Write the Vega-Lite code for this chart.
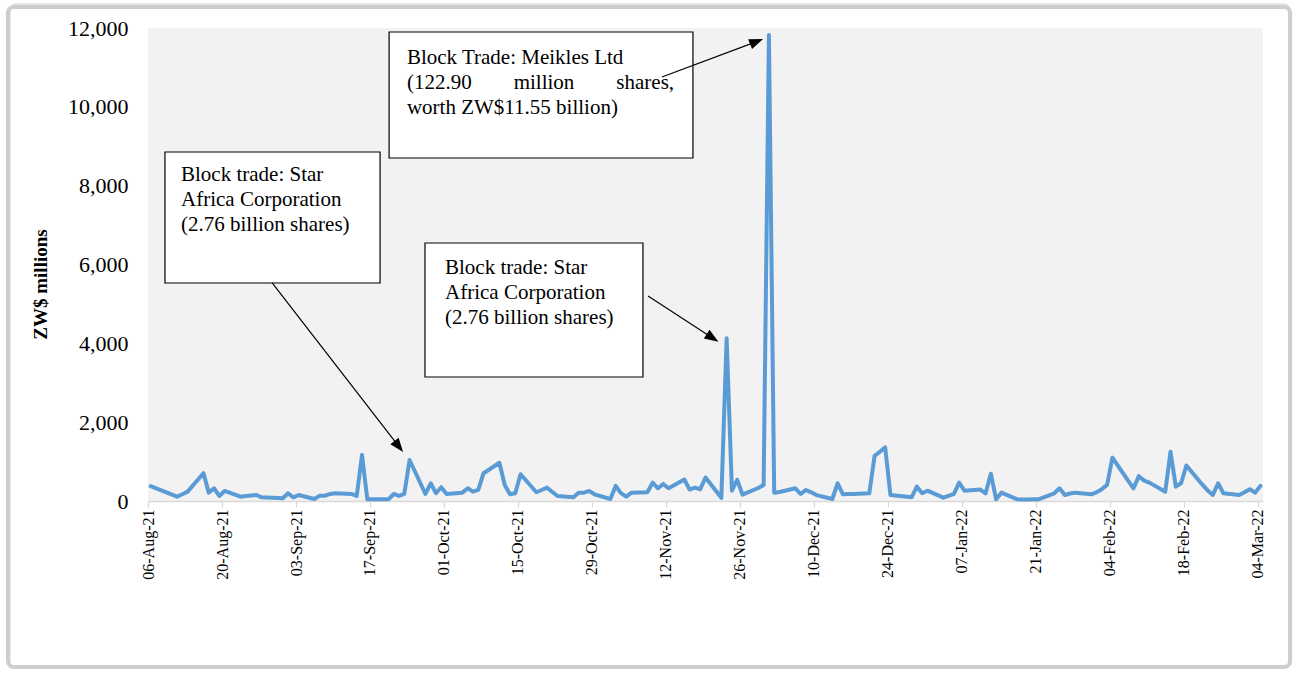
{
  "$schema": "https://vega.github.io/schema/vega-lite/v6.json",
  "autosize": "none",
  "width": 1115,
  "height": 473,
  "padding": {"left": 148, "top": 28, "right": 36, "bottom": 178},
  "background": "white",
  "config": {"view": {"fill": "#F2F2F2", "stroke": null}, "font": "Liberation Serif"},
  "datasets": {
    "series": [
      {"date": "2021-08-06", "value": 375}, {"date": "2021-08-11", "value": 110}, {"date": "2021-08-12", "value": 170}, {"date": "2021-08-13", "value": 237},
      {"date": "2021-08-16", "value": 705}, {"date": "2021-08-17", "value": 212}, {"date": "2021-08-18", "value": 323}, {"date": "2021-08-19", "value": 127},
      {"date": "2021-08-20", "value": 255}, {"date": "2021-08-23", "value": 110}, {"date": "2021-08-24", "value": 125}, {"date": "2021-08-25", "value": 140},
      {"date": "2021-08-26", "value": 153}, {"date": "2021-08-27", "value": 94}, {"date": "2021-08-30", "value": 75}, {"date": "2021-08-31", "value": 69},
      {"date": "2021-09-01", "value": 196}, {"date": "2021-09-02", "value": 94}, {"date": "2021-09-03", "value": 153}, {"date": "2021-09-06", "value": 51},
      {"date": "2021-09-07", "value": 135}, {"date": "2021-09-08", "value": 135}, {"date": "2021-09-09", "value": 180}, {"date": "2021-09-10", "value": 196},
      {"date": "2021-09-13", "value": 178}, {"date": "2021-09-14", "value": 127}, {"date": "2021-09-15", "value": 1170}, {"date": "2021-09-16", "value": 43},
      {"date": "2021-09-17", "value": 45}, {"date": "2021-09-20", "value": 43}, {"date": "2021-09-21", "value": 178}, {"date": "2021-09-22", "value": 127},
      {"date": "2021-09-23", "value": 178}, {"date": "2021-09-24", "value": 1040}, {"date": "2021-09-27", "value": 178}, {"date": "2021-09-28", "value": 450},
      {"date": "2021-09-29", "value": 196}, {"date": "2021-09-30", "value": 349}, {"date": "2021-10-01", "value": 178}, {"date": "2021-10-04", "value": 212},
      {"date": "2021-10-05", "value": 323}, {"date": "2021-10-06", "value": 237}, {"date": "2021-10-07", "value": 280}, {"date": "2021-10-08", "value": 705},
      {"date": "2021-10-11", "value": 970}, {"date": "2021-10-12", "value": 408}, {"date": "2021-10-13", "value": 170}, {"date": "2021-10-14", "value": 196},
      {"date": "2021-10-15", "value": 680}, {"date": "2021-10-18", "value": 222}, {"date": "2021-10-19", "value": 280}, {"date": "2021-10-20", "value": 339},
      {"date": "2021-10-21", "value": 230}, {"date": "2021-10-22", "value": 127}, {"date": "2021-10-25", "value": 94}, {"date": "2021-10-26", "value": 212},
      {"date": "2021-10-27", "value": 212}, {"date": "2021-10-28", "value": 255}, {"date": "2021-10-29", "value": 170}, {"date": "2021-11-01", "value": 51},
      {"date": "2021-11-02", "value": 382}, {"date": "2021-11-03", "value": 200}, {"date": "2021-11-04", "value": 110}, {"date": "2021-11-05", "value": 212},
      {"date": "2021-11-08", "value": 222}, {"date": "2021-11-09", "value": 466}, {"date": "2021-11-10", "value": 323}, {"date": "2021-11-11", "value": 433},
      {"date": "2021-11-12", "value": 323}, {"date": "2021-11-15", "value": 545}, {"date": "2021-11-16", "value": 290}, {"date": "2021-11-17", "value": 339},
      {"date": "2021-11-18", "value": 298}, {"date": "2021-11-19", "value": 594}, {"date": "2021-11-22", "value": 80}, {"date": "2021-11-23", "value": 4130},
      {"date": "2021-11-24", "value": 262}, {"date": "2021-11-25", "value": 535}, {"date": "2021-11-26", "value": 160}, {"date": "2021-11-29", "value": 330},
      {"date": "2021-11-30", "value": 408}, {"date": "2021-12-01", "value": 11820}, {"date": "2021-12-02", "value": 210}, {"date": "2021-12-03", "value": 230},
      {"date": "2021-12-06", "value": 323}, {"date": "2021-12-07", "value": 178}, {"date": "2021-12-08", "value": 280}, {"date": "2021-12-09", "value": 220},
      {"date": "2021-12-10", "value": 150}, {"date": "2021-12-13", "value": 51}, {"date": "2021-12-14", "value": 450}, {"date": "2021-12-15", "value": 170},
      {"date": "2021-12-16", "value": 175}, {"date": "2021-12-17", "value": 180}, {"date": "2021-12-20", "value": 196}, {"date": "2021-12-21", "value": 1146},
      {"date": "2021-12-22", "value": 1250}, {"date": "2021-12-23", "value": 1360}, {"date": "2021-12-24", "value": 153}, {"date": "2021-12-28", "value": 94},
      {"date": "2021-12-29", "value": 364}, {"date": "2021-12-30", "value": 196}, {"date": "2021-12-31", "value": 262}, {"date": "2022-01-03", "value": 84},
      {"date": "2022-01-04", "value": 130}, {"date": "2022-01-05", "value": 178}, {"date": "2022-01-06", "value": 466}, {"date": "2022-01-07", "value": 262},
      {"date": "2022-01-10", "value": 290}, {"date": "2022-01-11", "value": 196}, {"date": "2022-01-12", "value": 690}, {"date": "2022-01-13", "value": 43},
      {"date": "2022-01-14", "value": 212}, {"date": "2022-01-17", "value": 43}, {"date": "2022-01-18", "value": 40}, {"date": "2022-01-19", "value": 40},
      {"date": "2022-01-20", "value": 42}, {"date": "2022-01-21", "value": 43}, {"date": "2022-01-24", "value": 196}, {"date": "2022-01-25", "value": 323},
      {"date": "2022-01-26", "value": 153}, {"date": "2022-01-27", "value": 190}, {"date": "2022-01-28", "value": 212}, {"date": "2022-01-31", "value": 170},
      {"date": "2022-02-01", "value": 220}, {"date": "2022-02-02", "value": 300}, {"date": "2022-02-03", "value": 408}, {"date": "2022-02-04", "value": 1100},
      {"date": "2022-02-07", "value": 510}, {"date": "2022-02-08", "value": 323}, {"date": "2022-02-09", "value": 630}, {"date": "2022-02-10", "value": 517},
      {"date": "2022-02-11", "value": 466}, {"date": "2022-02-14", "value": 237}, {"date": "2022-02-15", "value": 1250}, {"date": "2022-02-16", "value": 364},
      {"date": "2022-02-17", "value": 450}, {"date": "2022-02-18", "value": 900}, {"date": "2022-02-21", "value": 420}, {"date": "2022-02-22", "value": 270},
      {"date": "2022-02-23", "value": 153}, {"date": "2022-02-24", "value": 450}, {"date": "2022-02-25", "value": 196}, {"date": "2022-02-28", "value": 153},
      {"date": "2022-03-01", "value": 220}, {"date": "2022-03-02", "value": 298}, {"date": "2022-03-03", "value": 212}, {"date": "2022-03-04", "value": 382}
    ],
    "frame": [
      {"x1": "2021-07-10T09:00Z", "x2": "2022-03-09T15:00Z", "y1": 12609, "y2": -4211}
    ],
    "boxes": [
      {"id": 1, "x1": "2021-08-08T17:00Z", "x2": "2021-09-18T10:00Z", "y1": 8854, "y2": 5531},
      {"id": 2, "x1": "2021-09-26T22:00Z", "x2": "2021-11-07T04:00Z", "y1": 6545, "y2": 3146},
      {"id": 3, "x1": "2021-09-20T03:00Z", "x2": "2021-11-16T15:00Z", "y1": 11898, "y2": 8702}
    ],
    "arrows": [
      {"id": 1, "x1": "2021-08-29T00:00Z", "y1": 5531, "x2": "2021-09-21T23:00Z", "y2": 1383},
      {"id": 2, "x1": "2021-11-08T03:00Z", "y1": 5201, "x2": "2021-11-20T08:00Z", "y2": 4138},
      {"id": 3, "x1": "2021-11-10T18:00Z", "y1": 10756, "x2": "2021-11-28T16:00Z", "y2": 11655}
    ],
    "labels": [
      {"id": 1, "x": "2021-08-11T18:00Z", "y": 8271, "text": "Block trade: Star\nAfrica Corporation\n(2.76 billion shares)"},
      {"id": 2, "x": "2021-09-30T17:00Z", "y": 5911, "text": "Block trade: Star\nAfrica Corporation\n(2.76 billion shares)"},
      {"id": 3, "x": "2021-09-23T12:00Z", "y": 11239, "text": "Block Trade: Meikles Ltd\n(122.90\u00a0\u00a0\u00a0\u00a0\u00a0\u00a0\u00a0 million\u00a0\u00a0\u00a0\u00a0\u00a0\u00a0\u00a0 shares,\nworth ZW$11.55 billion)"}
    ]
  },
  "layer": [
    {
      "data": {"name": "series"},
      "mark": {"type": "line", "color": "#5B9BD5", "strokeWidth": 4, "strokeJoin": "round", "strokeCap": "round"},
      "encoding": {
        "x": {
          "field": "date", "type": "temporal",
          "scale": {"type": "utc", "domain": [{"year": 2021, "month": 8, "date": 5, "hours": 12, "utc": true}, {"year": 2022, "month": 3, "date": 4, "hours": 12, "utc": true}]},
          "axis": {
            "title": null,
            "values": [
              {"year": 2021, "month": 8, "date": 6, "utc": true}, {"year": 2021, "month": 8, "date": 20, "utc": true},
              {"year": 2021, "month": 9, "date": 3, "utc": true}, {"year": 2021, "month": 9, "date": 17, "utc": true},
              {"year": 2021, "month": 10, "date": 1, "utc": true}, {"year": 2021, "month": 10, "date": 15, "utc": true},
              {"year": 2021, "month": 10, "date": 29, "utc": true}, {"year": 2021, "month": 11, "date": 12, "utc": true},
              {"year": 2021, "month": 11, "date": 26, "utc": true}, {"year": 2021, "month": 12, "date": 10, "utc": true},
              {"year": 2021, "month": 12, "date": 24, "utc": true}, {"year": 2022, "month": 1, "date": 7, "utc": true},
              {"year": 2022, "month": 1, "date": 21, "utc": true}, {"year": 2022, "month": 2, "date": 4, "utc": true},
              {"year": 2022, "month": 2, "date": 18, "utc": true}, {"year": 2022, "month": 3, "date": 4, "utc": true}
            ],
            "format": "%d-%b-%y",
            "labelAngle": -90,
            "labelFont": "Liberation Serif",
            "labelFontSize": 16,
            "labelColor": "black",
            "labelPadding": 2,
            "labelFlush": false,
            "labelOverlap": false,
            "labelBound": false,
            "tickSize": 6,
            "tickColor": "#D9D9D9",
            "tickWidth": 1.3,
            "tickOffset": -2.6,
            "domainColor": "#D9D9D9",
            "domainWidth": 1.3,
            "grid": false
          }
        },
        "y": {
          "field": "value", "type": "quantitative",
          "scale": {"domain": [0, 12000], "nice": false},
          "axis": {
            "title": "ZW$ millions",
            "titleFont": "Liberation Serif",
            "titleFontSize": 19,
            "titleFontWeight": "bold",
            "titleColor": "black",
            "titlePadding": 17,
            "titleY": 256,
            "values": [0, 2000, 4000, 6000, 8000, 10000, 12000],
            "format": ",.0f",
            "labelFont": "Liberation Serif",
            "labelFontSize": 22,
            "labelColor": "black",
            "labelPadding": 20,
            "ticks": false,
            "domain": false,
            "grid": false
          }
        }
      }
    },
    {
      "data": {"name": "frame"},
      "mark": {"type": "rect", "fill": null, "stroke": "#A6A6A6", "strokeWidth": 4, "strokeOpacity": 0.55, "cornerRadius": 6, "xOffset": -2, "yOffset": 3},
      "encoding": {
        "x": {"field": "x1", "type": "temporal"},
        "x2": {"field": "x2"},
        "y": {"field": "y1", "type": "quantitative"},
        "y2": {"field": "y2"}
      }
    },
    {
      "data": {"name": "frame"},
      "mark": {"type": "rect", "fill": null, "stroke": "#D0D0D0", "strokeWidth": 1, "cornerRadius": 6},
      "encoding": {
        "x": {"field": "x1", "type": "temporal"},
        "x2": {"field": "x2"},
        "y": {"field": "y1", "type": "quantitative"},
        "y2": {"field": "y2"}
      }
    },
    {
      "data": {"name": "boxes"},
      "mark": {"type": "rect", "fill": "#9A9A9A", "opacity": 0.7, "xOffset": 4, "yOffset": 4},
      "encoding": {
        "x": {"field": "x1", "type": "temporal"},
        "x2": {"field": "x2"},
        "y": {"field": "y1", "type": "quantitative"},
        "y2": {"field": "y2"}
      }
    },
    {
      "data": {"name": "boxes"},
      "mark": {"type": "rect", "fill": "white", "stroke": "black", "strokeWidth": 1.2},
      "encoding": {
        "x": {"field": "x1", "type": "temporal"},
        "x2": {"field": "x2"},
        "y": {"field": "y1", "type": "quantitative"},
        "y2": {"field": "y2"}
      }
    },
    {
      "data": {"name": "arrows"},
      "mark": {"type": "rule", "color": "black", "strokeWidth": 1.2},
      "encoding": {
        "x": {"field": "x1", "type": "temporal"},
        "x2": {"field": "x2"},
        "y": {"field": "y1", "type": "quantitative"},
        "y2": {"field": "y2"}
      }
    },
    {
      "data": {"name": "arrows"},
      "transform": [{"filter": "datum.id == 1"}],
      "mark": {"type": "point", "shape": "M0,-1L-0.75,1L0.75,1Z", "filled": true, "color": "black", "opacity": 1, "size": 196, "angle": 142},
      "encoding": {"x": {"field": "x2", "type": "temporal"}, "y": {"field": "y2", "type": "quantitative"}}
    },
    {
      "data": {"name": "arrows"},
      "transform": [{"filter": "datum.id == 2"}],
      "mark": {"type": "point", "shape": "M0,-1L-0.75,1L0.75,1Z", "filled": true, "color": "black", "opacity": 1, "size": 196, "angle": 123},
      "encoding": {"x": {"field": "x2", "type": "temporal"}, "y": {"field": "y2", "type": "quantitative"}}
    },
    {
      "data": {"name": "arrows"},
      "transform": [{"filter": "datum.id == 3"}],
      "mark": {"type": "point", "shape": "M0,-1L-0.75,1L0.75,1Z", "filled": true, "color": "black", "opacity": 1, "size": 196, "angle": 68},
      "encoding": {"x": {"field": "x2", "type": "temporal"}, "y": {"field": "y2", "type": "quantitative"}}
    },
    {
      "data": {"name": "labels"},
      "mark": {"type": "text", "align": "left", "baseline": "middle", "font": "Liberation Serif", "fontSize": 21, "lineHeight": 25, "lineBreak": "\n", "color": "black"},
      "encoding": {
        "x": {"field": "x", "type": "temporal"},
        "y": {"field": "y", "type": "quantitative"},
        "text": {"field": "text"}
      }
    }
  ]
}
